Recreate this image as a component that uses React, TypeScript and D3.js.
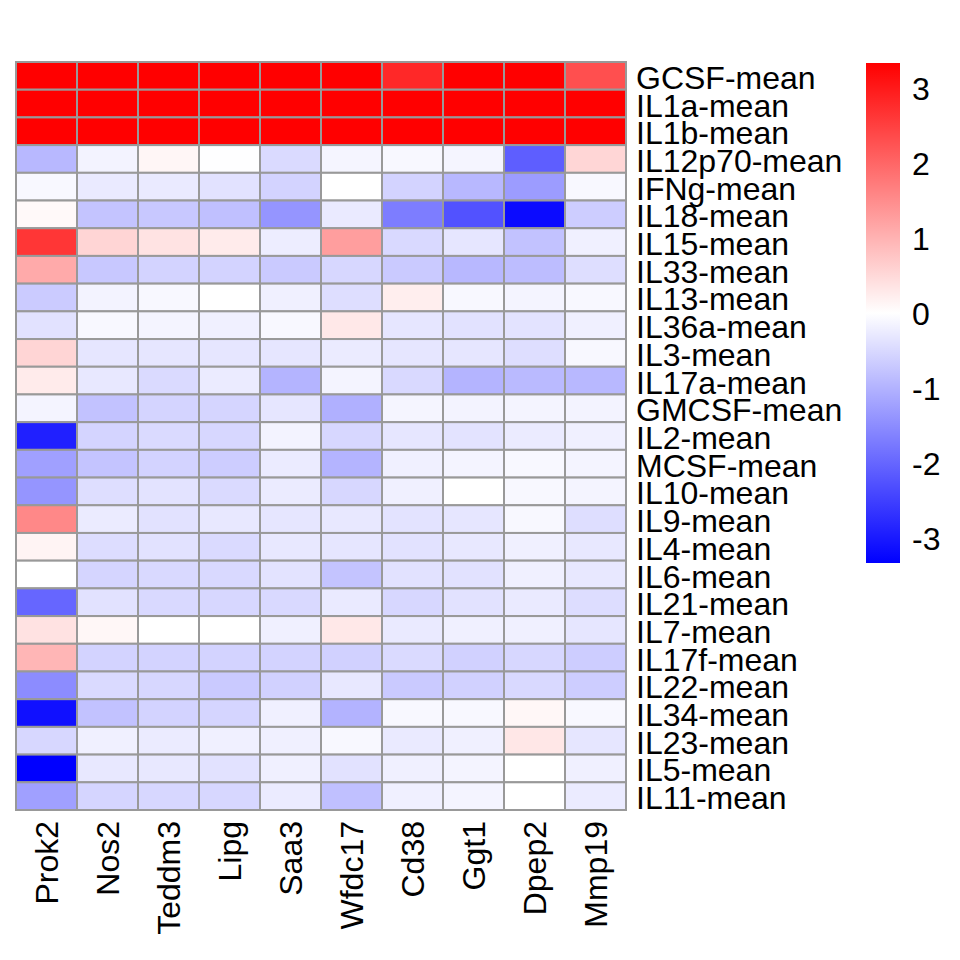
import React from "react";
import * as d3 from "d3";

const genes = ["Prok2", "Nos2", "Teddm3", "Lipg", "Saa3", "Wfdc17", "Cd38", "Ggt1", "Dpep2", "Mmp19"];
const cytokines = [
  "GCSF-mean", "IL1a-mean", "IL1b-mean", "IL12p70-mean", "IFNg-mean", "IL18-mean", "IL15-mean",
  "IL33-mean", "IL13-mean", "IL36a-mean", "IL3-mean", "IL17a-mean", "GMCSF-mean", "IL2-mean",
  "MCSF-mean", "IL10-mean", "IL9-mean", "IL4-mean", "IL6-mean", "IL21-mean", "IL7-mean",
  "IL17f-mean", "IL22-mean", "IL34-mean", "IL23-mean", "IL5-mean", "IL11-mean",
];

// one array per row (cytokine), values per gene in column order
const GCSF = [3.4, 3.4, 3.4, 3.4, 3.4, 3.4, 2.82, 3.4, 3.4, 2.3];
const IL1a = [3.4, 3.4, 3.4, 3.4, 3.4, 3.4, 3.4, 3.4, 3.4, 3.4];
const IL1b = [3.4, 3.4, 3.4, 3.4, 3.4, 3.4, 3.4, 3.4, 3.4, 3.4];
const IL12p70 = [-0.93, -0.16, 0.12, -0.01, -0.48, -0.13, -0.09, -0.13, -2.11, 0.54];
const IFNg = [-0.09, -0.27, -0.27, -0.38, -0.58, 0.0, -0.58, -0.93, -1.3, -0.09];
const IL18 = [0.08, -0.77, -0.72, -0.83, -1.39, -0.27, -1.7, -2.27, -3.2, -0.65];
const IL15 = [2.63, 0.55, 0.37, 0.26, -0.24, 1.27, -0.5, -0.33, -0.8, -0.2];
const IL33 = [1.11, -0.72, -0.58, -0.58, -0.69, -0.52, -0.69, -0.93, -0.86, -0.43];
const IL13 = [-0.68, -0.16, -0.09, 0.0, -0.2, -0.43, 0.22, -0.09, -0.14, -0.09];
const IL36a = [-0.38, -0.09, -0.14, -0.2, -0.09, 0.3, -0.33, -0.38, -0.37, -0.2];
const IL3 = [0.55, -0.33, -0.33, -0.33, -0.33, -0.26, -0.33, -0.33, -0.43, -0.09];
const IL17a = [0.26, -0.3, -0.48, -0.26, -0.98, -0.14, -0.5, -0.98, -0.9, -0.93];
const GMCSF = [-0.14, -0.8, -0.56, -0.55, -0.33, -1.03, -0.13, -0.16, -0.14, -0.16];
const IL2 = [-2.92, -0.56, -0.48, -0.52, -0.16, -0.52, -0.33, -0.37, -0.26, -0.2];
const MCSF = [-1.24, -0.77, -0.58, -0.65, -0.26, -0.98, -0.2, -0.14, -0.09, -0.14];
const IL10 = [-1.39, -0.43, -0.37, -0.48, -0.26, -0.52, -0.2, 0.0, -0.09, -0.14];
const IL9 = [1.56, -0.26, -0.38, -0.3, -0.33, -0.3, -0.37, -0.33, -0.09, -0.43];
const IL4 = [0.14, -0.45, -0.38, -0.48, -0.3, -0.33, -0.38, -0.3, -0.2, -0.3];
const IL6 = [0.0, -0.55, -0.5, -0.5, -0.37, -0.77, -0.38, -0.38, -0.2, -0.3];
const IL21 = [-2.0, -0.38, -0.5, -0.52, -0.5, -0.27, -0.52, -0.38, -0.27, -0.45];
const IL7 = [0.38, 0.1, 0.0, 0.0, -0.2, 0.3, -0.27, -0.2, -0.2, -0.33];
const IL17f = [0.96, -0.58, -0.58, -0.58, -0.58, -0.6, -0.48, -0.6, -0.52, -0.65];
const IL22 = [-1.5, -0.48, -0.52, -0.69, -0.6, -0.3, -0.69, -0.6, -0.5, -0.65];
const IL34 = [-3.13, -0.8, -0.58, -0.55, -0.2, -1.0, -0.09, -0.09, 0.1, -0.09];
const IL23 = [-0.52, -0.2, -0.26, -0.2, -0.2, -0.09, -0.27, -0.2, 0.32, -0.33];
const IL5 = [-3.4, -0.3, -0.3, -0.38, -0.2, -0.38, -0.2, -0.14, 0.0, -0.2];
const IL11 = [-1.24, -0.55, -0.52, -0.52, -0.26, -0.83, -0.2, -0.14, 0.0, -0.26];

const rows = [GCSF, IL1a, IL1b, IL12p70, IFNg, IL18, IL15, IL33, IL13, IL36a, IL3, IL17a, GMCSF, IL2,
  MCSF, IL10, IL9, IL4, IL6, IL21, IL7, IL17f, IL22, IL34, IL23, IL5, IL11];

const legendTicks = [-3, -2, -1, 0, 1, 2, 3];
const LIMIT = 3.34;

const FONT = "'Liberation Sans', Arial, Helvetica, sans-serif";

export default function App() {
  const left = 16, right = 626, top = 62, bottom = 810;
  const x = d3.scaleBand<string>().domain(genes).range([left, right]);
  const y = d3.scaleBand<string>().domain(cytokines).range([top, bottom]);
  const color = d3.scaleLinear<string>()
    .domain([-LIMIT, 0, LIMIT])
    .range(["#0000ff", "#ffffff", "#ff0000"])
    .clamp(true);

  const legY = d3.scaleLinear().domain([-LIMIT, LIMIT]).range([563, 63]);
  const legX = 866, legW = 34;

  const cells: any[] = [];
  rows.forEach((vals, ri) => {
    vals.forEach((v, ci) => {
      cells.push({ r: cytokines[ri], c: genes[ci], v });
    });
  });

  return (
    <svg width={960} height={960} style={{ display: "block", position: "absolute", left: 0, top: 0 }}>
      <rect x={0} y={0} width={960} height={960} fill="#ffffff" />
      <defs>
        <linearGradient id="leg" x1="0" y1="1" x2="0" y2="0">
          <stop offset="0%" stopColor="#0000ff" />
          <stop offset="50%" stopColor="#ffffff" />
          <stop offset="100%" stopColor="#ff0000" />
        </linearGradient>
      </defs>
      <g>
        {cells.map((d, i) => (
          <rect
            key={i}
            x={x(d.c)}
            y={y(d.r)}
            width={x.bandwidth()}
            height={y.bandwidth()}
            fill={color(d.v)}
            stroke="#999999"
            strokeWidth={2}
          />
        ))}
      </g>
      <g fontFamily={FONT} fontSize={32} fill="#000">
        {cytokines.map((c) => (
          <text key={c} x={right + 10} y={(y(c) as number) + y.bandwidth() / 2 + 2} dominantBaseline="central">
            {c}
          </text>
        ))}
        {genes.map((g) => (
          <text
            key={g}
            transform={`translate(${(x(g) as number) + x.bandwidth() / 2},${bottom + 11}) rotate(-90)`}
            textAnchor="end"
            dominantBaseline="central"
          >
            {g}
          </text>
        ))}
      </g>
      <rect x={legX} y={legY(LIMIT)} width={legW} height={legY(-LIMIT) - legY(LIMIT)} fill="url(#leg)" />
      <g fontFamily={FONT} fontSize={32} fill="#000">
        {legendTicks.map((t) => (
          <text key={t} x={legX + legW + 12} y={legY(t) + 1} dominantBaseline="central">
            {t}
          </text>
        ))}
      </g>
    </svg>
  );
}
